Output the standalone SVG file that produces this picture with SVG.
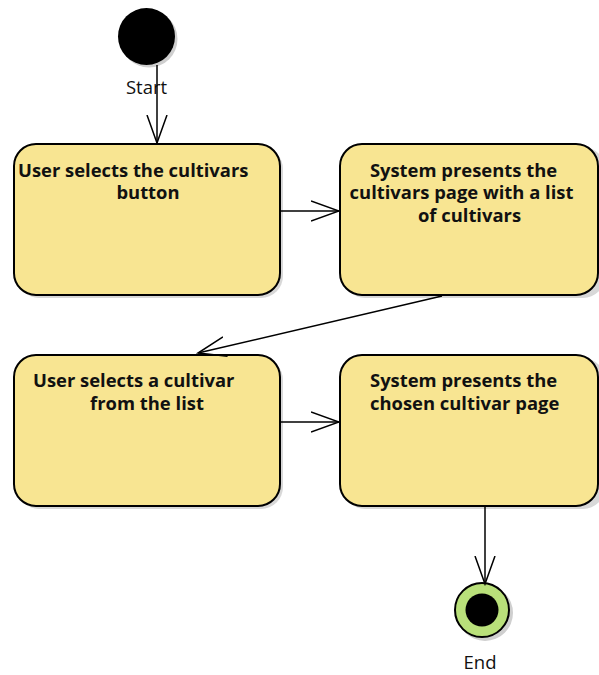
<svg xmlns="http://www.w3.org/2000/svg" width="599" height="675" viewBox="0 0 599 675">
<style>
.box{fill:#f8e592;stroke:#000;stroke-width:2}
.sh{fill:#d8d8d8}
.t{font-family:"Open Sans","Noto Sans",sans-serif;font-weight:bold;font-size:18.4px;fill:#111}
.l{font-family:"Open Sans","Noto Sans",sans-serif;font-size:18.5px;fill:#111}
.c{fill:none;stroke:#000;stroke-width:1.5}
</style>
<defs>
<marker id="ah" markerWidth="30" markerHeight="24" refX="28" refY="11" orient="auto" markerUnits="userSpaceOnUse">
<path d="M0,1 L28,11 L0,21" fill="none" stroke="#000" stroke-width="1.5"/>
</marker>
</defs>
<rect width="599" height="675" fill="#fff"/>
<g id="start">
<circle cx="149" cy="39" r="28.5" fill="#cfcfcf"/>
<circle cx="146.5" cy="36.5" r="28.5" fill="#000"/>
<text class="l" x="146.5" y="94" text-anchor="middle">Start</text>
</g>
<g id="n1">
<rect class="sh" x="17" y="147" width="266" height="151" rx="22"/>
<rect class="box" x="14" y="144" width="266" height="151" rx="22"/>
<text class="t" x="18" y="177">User selects the cultivars</text>
<text class="t" x="148" y="199" text-anchor="middle">button</text>
</g>
<g id="n2">
<rect class="sh" x="343" y="147" width="262" height="151" rx="22"/>
<rect class="box" x="340" y="144" width="258" height="151" rx="22"/>
<text class="t" x="463.5" y="177" text-anchor="middle">System presents the</text>
<text class="t" x="461.5" y="199" text-anchor="middle">cultivars page with a list</text>
<text class="t" x="469.5" y="222" text-anchor="middle">of cultivars</text>
</g>
<g id="n3">
<rect class="sh" x="17" y="358" width="266" height="151" rx="22"/>
<rect class="box" x="14" y="355" width="266" height="151" rx="22"/>
<text class="t" x="33" y="387">User selects a cultivar</text>
<text class="t" x="147" y="410" text-anchor="middle">from the list</text>
</g>
<g id="n4">
<rect class="sh" x="343" y="358" width="262" height="151" rx="22"/>
<rect class="box" x="340" y="355" width="258" height="151" rx="22"/>
<text class="t" x="370" y="387">System presents the</text>
<text class="t" x="370" y="410">chosen cultivar page</text>
</g>
<g id="end">
<circle cx="485" cy="613" r="28" fill="#cfcfcf"/>
<circle cx="482" cy="610" r="27" fill="#b9e07a" stroke="#000" stroke-width="2"/>
<circle cx="482" cy="610" r="16.5" fill="#000"/>
<text class="l" x="480" y="669" text-anchor="middle">End</text>
</g>
<g id="connectors">
<path class="c" d="M157,65 L157,143" marker-end="url(#ah)"/>
<path class="c" d="M280,211 L339,211" marker-end="url(#ah)"/>
<path class="c" d="M442,296 L198,353" marker-end="url(#ah)"/>
<path class="c" d="M280,422 L339,422" marker-end="url(#ah)"/>
<path class="c" d="M485,506 L485,584" marker-end="url(#ah)"/>
</g>
</svg>
